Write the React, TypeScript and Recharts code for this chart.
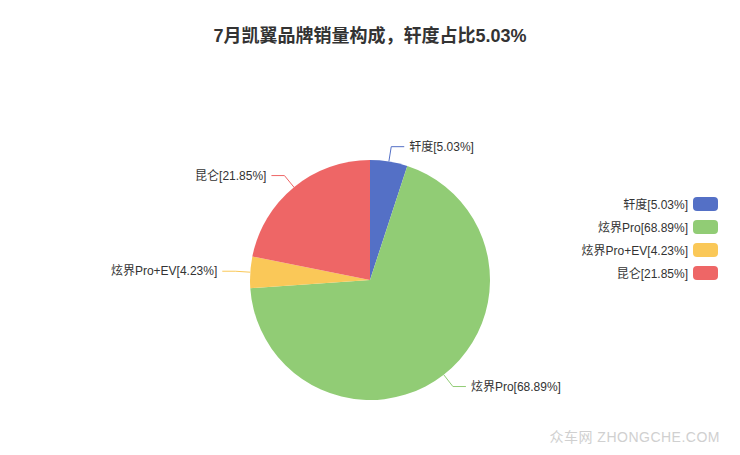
import { PieChart, Pie, Cell, Legend } from "recharts";

const TITLE = "7月凯翼品牌销量构成，轩度占比5.03%";
const NAMES = ["轩度", "炫界Pro", "炫界Pro+EV", "昆仑"];
const VALUES = [5.03, 68.89, 4.23, 21.85];
const COLORS = ["#5470c6", "#91cc75", "#fac858", "#ee6666"];

const data = NAMES.map((name, i) => ({ name, value: VALUES[i] }));
const labelOf = (name: string, v: number) => `${name}[${v.toFixed(2)}%]`;

const FONT = "'Liberation Sans', 'Noto Sans CJK SC', sans-serif";
const RAD = Math.PI / 180;

function PieLabel(props: any) {
  const { cx, cy, outerRadius, midAngle, index, name, value } = props;
  const cos = Math.cos(-midAngle * RAD);
  const sin = Math.sin(-midAngle * RAD);
  const sx = cx + outerRadius * cos;
  const sy = cy + outerRadius * sin;
  const mx = cx + (outerRadius + 15) * cos;
  const my = cy + (outerRadius + 15) * sin;
  const dir = cos >= 0 ? 1 : -1;
  const ex = mx + dir * 13;
  const color = COLORS[index];
  return (
    <g>
      <polyline
        points={`${sx},${sy} ${mx},${my} ${ex},${my}`}
        fill="none"
        stroke={color}
        strokeWidth={1}
      />
      <text
        x={ex + dir * 5}
        y={my}
        dy={4}
        textAnchor={dir > 0 ? "start" : "end"}
        fontSize={12}
        fontFamily={FONT}
        fill="#333"
      >
        {labelOf(name, value)}
      </text>
    </g>
  );
}

function LegendBox() {
  return (
    <div style={{ width: 160, fontFamily: FONT }}>
      {NAMES.map((n, i) => (
        <div
          key={n}
          style={{
            display: "flex",
            justifyContent: "flex-end",
            alignItems: "center",
            height: 23,
          }}
        >
          <span style={{ fontSize: 12, color: "#333", marginRight: 5 }}>
            {labelOf(n, VALUES[i])}
          </span>
          <span
            style={{
              display: "inline-block",
              width: 25,
              height: 14,
              borderRadius: 4,
              background: COLORS[i],
            }}
          />
        </div>
      ))}
    </div>
  );
}

export default function App() {
  return (
    <div
      style={{
        position: "absolute",
        left: 0,
        top: 0,
        width: 740,
        height: 455,
        background: "#fff",
        fontFamily: FONT,
      }}
    >
      <div
        style={{
          position: "absolute",
          top: 21,
          left: 0,
          width: 740,
          textAlign: "center",
          fontSize: 18,
          fontWeight: "bold",
          color: "#333",
        }}
      >
        {TITLE}
      </div>
      <PieChart width={740} height={455} margin={{ top: 0, right: 0, bottom: 0, left: 0 }}>
        <Pie
          data={data}
          dataKey="value"
          nameKey="name"
          cx={370}
          cy={280}
          outerRadius={120}
          startAngle={90}
          endAngle={-270}
          stroke="none"
          label={PieLabel}
          labelLine={false}
          isAnimationActive={false}
        >
          {data.map((d, i) => (
            <Cell key={d.name} fill={COLORS[i]} />
          ))}
        </Pie>
        <Legend
          content={<LegendBox />}
          wrapperStyle={{ position: "absolute", left: 558, top: 192, width: 160 }}
        />
      </PieChart>
      <div
        style={{
          position: "absolute",
          right: 20,
          bottom: 9,
          fontSize: 14,
          color: "#d0d0d0",
          letterSpacing: 0.5,
        }}
      >
        众车网 ZHONGCHE.COM
      </div>
    </div>
  );
}
